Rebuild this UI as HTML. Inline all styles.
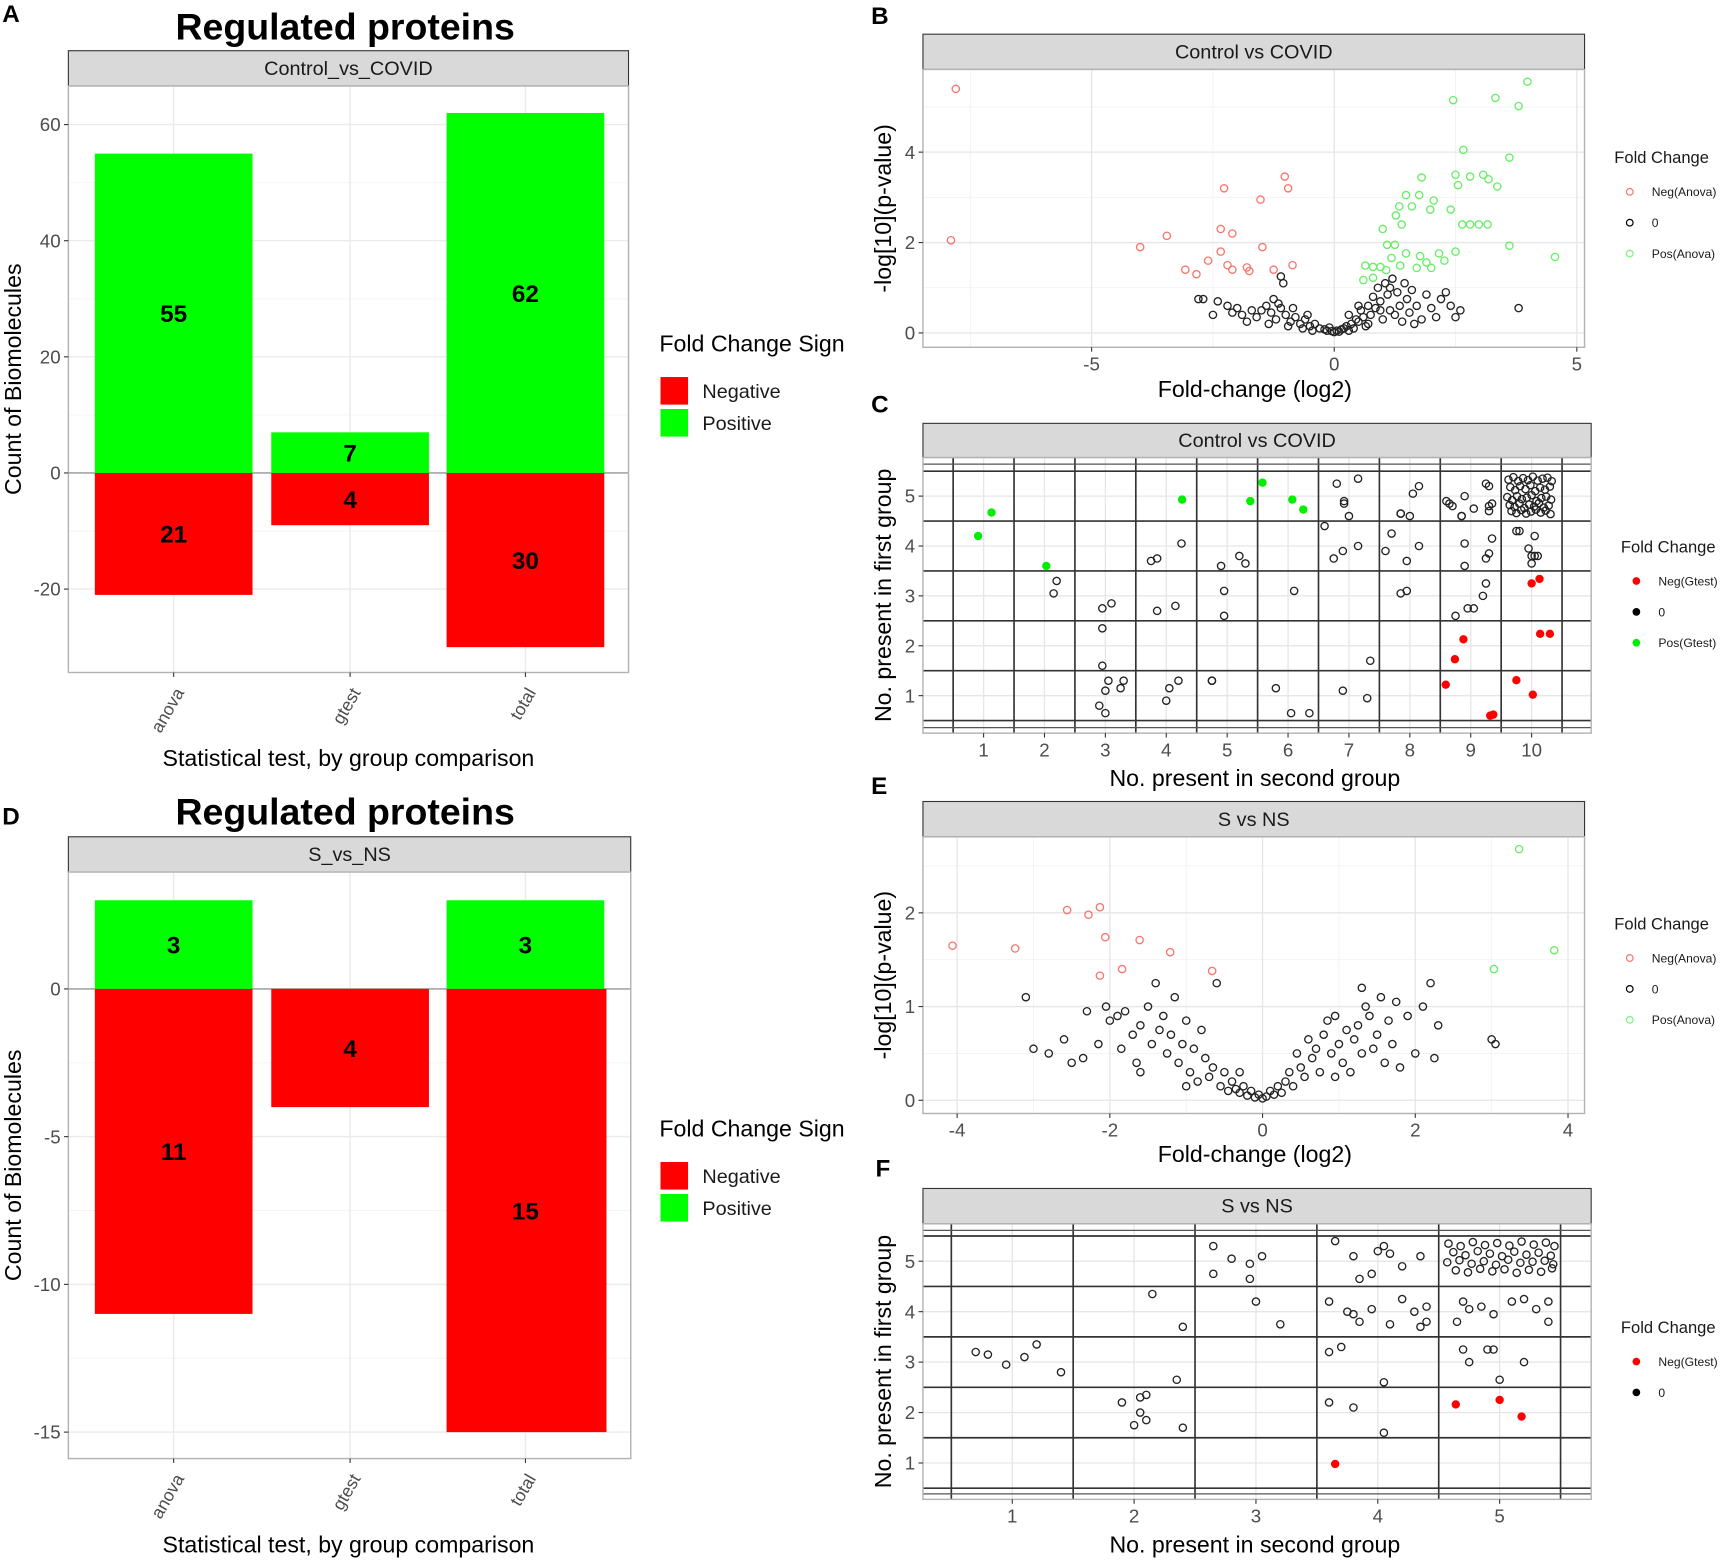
<!DOCTYPE html>
<html><head><meta charset="utf-8">
<style>
html,body{margin:0;padding:0;background:#fff;}
svg{display:block;font-family:"Liberation Sans",Arial,sans-serif;}
</style></head>
<body>
<svg id="fig" width="1729" height="1560" viewBox="0 0 1568 1415" preserveAspectRatio="none" xmlns="http://www.w3.org/2000/svg"></svg>
<script>
// ---------- DATA ----------
const barCats = ["anova","gtest","total"];
const aPos = [55,7,62];
const aNeg = [21,9,30];
const aPosLabels = ["55","7","62"];
const aNegLabels = ["21","4","30"];
const aTicks = [60,40,20,0,-20];
const dPos = [3,0,3];
const dNeg = [11,4,15];
const dPosLabels = ["3","","3"];
const dNegLabels = ["11","4","15"];
const dTicks = [0,-5,-10,-15];

const bNegX = [-7.8,-7.9,-4.0,-3.45,-2.27,-1.52,-1.02,-0.95,-2.34,-2.1,-1.48,-2.34,-2.6,-3.07,-2.84,-2.2,-2.1,-1.8,-1.75,-1.25,-0.86];
const bNegY = [5.4,2.05,1.9,2.15,3.2,2.95,3.46,3.2,2.3,2.2,1.9,1.8,1.6,1.4,1.3,1.5,1.4,1.45,1.37,1.4,1.5];
const bPosX = [3.98,2.45,3.32,3.8,2.66,3.61,1.8,2.5,2.8,3.07,3.18,3.36,1.48,1.75,2.05,2.55,2.4,1.98,1.34,1.6,1.27,1.0,1.39,2.64,2.8,2.98,3.16,3.61,4.55,0.64,0.8,0.95,1.09,1.25,1.18,1.48,1.77,1.9,2.27,2.0,2.16,2.5,1.7,1.36,1.07,0.8,0.6];
const bPosY = [5.56,5.15,5.2,5.02,4.05,3.88,3.44,3.5,3.46,3.5,3.4,3.24,3.05,3.05,2.93,3.27,2.73,2.73,2.8,2.8,2.6,2.3,2.4,2.4,2.4,2.4,2.4,1.93,1.68,1.49,1.46,1.46,1.95,1.95,1.66,1.76,1.7,1.56,1.6,1.44,1.76,1.8,1.44,1.49,1.39,1.22,1.17];
const bZeroX = [-2.8,-2.7,-2.4,-2.2,-2.0,-1.9,-2.1,-1.7,-1.6,-1.5,-1.4,-1.3,-1.2,-1.1,-1.0,-0.9,-1.25,-1.15,-0.8,-0.7,-0.6,-0.5,-0.4,-0.3,-0.2,-0.15,-0.1,-1.05,-1.1,-0.85,-0.95,-0.65,-1.8,-1.35,-2.5,-0.45,-0.55,0,0.05,0.1,0.15,0.2,-0.05,0.25,0.3,0.35,0.4,0.45,0.5,0.55,0.6,0.65,0.7,0.75,0.8,0.85,0.9,0.95,1.0,1.05,1.1,1.15,1.2,1.25,1.3,1.35,1.4,1.45,1.5,1.55,1.6,1.7,1.8,1.9,2.0,2.1,2.3,2.4,2.6,3.8,0.3,0.5,0.7,0.95,1.15,1.65,2.2,2.5];
const bZeroY = [0.75,0.75,0.7,0.6,0.55,0.4,0.45,0.5,0.35,0.5,0.6,0.45,0.3,0.55,0.4,0.25,0.75,0.65,0.35,0.2,0.3,0.15,0.2,0.1,0.08,0.05,0.12,1.1,1.25,0.55,0.15,0.1,0.25,0.2,0.4,0.05,0.4,0.02,0.05,0.03,0.08,0.1,0.04,0.15,0.05,0.2,0.1,0.3,0.25,0.5,0.35,0.15,0.6,0.4,0.8,0.55,1.0,0.7,0.3,1.1,0.85,0.5,1.2,0.4,0.9,0.6,0.25,1.1,0.75,0.45,0.95,0.6,0.3,0.85,0.55,0.35,0.9,0.6,0.5,0.55,0.4,0.6,0.2,0.5,1.0,0.2,0.75,0.35];

const cPosX = [0.91,1.13,2.03,4.26,5.38,5.58,6.07,6.25];
const cPosY = [4.2,4.67,3.6,4.93,4.9,5.27,4.93,4.73];
const cNegX = [10.0,10.13,10.14,10.3,8.88,8.74,8.59,9.75,10.02,9.32,9.37];
const cNegY = [3.25,3.34,2.24,2.24,2.13,1.73,1.22,1.31,1.02,0.6,0.62];
const cZeroX = [2.95,3.1,2.95,2.95,3.05,3.0,2.9,3.0,3.25,3.3,2.15,2.2,3.75,3.85,4.25,3.85,4.15,4.05,4.2,4.0,4.75,4.9,5.2,5.3,4.95,4.95,4.75,5.8,6.1,6.05,6.35,6.8,7.15,6.92,7.0,6.92,6.6,6.75,6.9,7.15,7.35,6.9,7.3,7.85,8.05,8.15,7.85,8.0,7.7,7.6,8.15,7.95,7.85,7.95,8.9,8.65,8.7,8.85,8.85,9.05,9.25,9.3,9.35,8.6,8.9,9.35,9.25,9.3,8.9,9.25,9.2,9.05,8.95,8.75,9.3,9.3,9.75,9.8,10.05,9.95,10.0,10.05,10.1,10.0];
const cZeroY = [2.75,2.85,2.35,1.6,1.3,1.1,0.8,0.65,1.15,1.3,3.05,3.3,3.7,3.75,4.05,2.7,2.8,1.15,1.3,0.9,1.3,3.6,3.8,3.65,3.1,2.6,1.3,1.15,3.1,0.65,0.65,5.25,5.35,4.9,4.6,4.85,4.4,3.75,3.9,4.0,1.7,1.1,0.95,4.65,5.05,5.2,4.65,4.6,4.25,3.9,4.0,3.7,3.05,3.1,5.0,4.85,4.8,4.6,4.6,4.75,5.25,5.2,4.85,4.9,4.05,4.15,3.75,3.85,3.6,3.25,3.0,2.75,2.75,2.6,4.8,4.7,4.3,4.3,4.2,3.95,3.8,3.8,3.8,3.65];
const cDenseX = [9.62,9.7,9.78,9.86,9.94,10.02,10.1,10.18,10.26,10.33,9.65,9.73,9.81,9.9,9.98,10.06,10.14,10.22,10.3,9.6,9.68,9.76,9.84,9.92,10.0,10.08,10.16,10.24,10.32,9.64,9.72,9.8,9.88,9.96,10.04,10.12,10.2,10.28,9.67,9.75,9.83,9.91,9.99,10.07,10.15,10.23,10.31];
const cDenseY = [5.33,5.38,5.3,5.36,5.32,5.39,5.31,5.35,5.37,5.3,5.18,5.12,5.2,5.14,5.22,5.1,5.17,5.13,5.19,4.98,4.92,5.0,4.94,4.97,5.02,4.9,4.96,4.99,4.93,4.82,4.78,4.85,4.76,4.83,4.79,4.86,4.77,4.81,4.7,4.66,4.72,4.65,4.69,4.73,4.67,4.71,4.64];

const eNegX = [-4.06,-3.24,-2.56,-2.28,-2.13,-2.06,-1.61,-1.21,-2.13,-1.84,-0.66];
const eNegY = [1.65,1.62,2.03,1.98,2.06,1.74,1.71,1.58,1.33,1.4,1.38];
const ePosX = [3.36,3.82,3.03];
const ePosY = [2.68,1.6,1.4];
const eZeroX = [-3.1,-2.6,-2.5,-2.35,-2.3,-2.15,-2.05,-2.0,-1.9,-1.85,-1.8,-1.7,-1.65,-1.6,-1.5,-1.45,-1.4,-1.35,-1.3,-1.25,-1.2,-1.15,-1.1,-1.05,-1.0,-0.95,-0.9,-0.85,-0.8,-0.75,-0.7,-0.65,-0.6,-0.55,-0.5,-0.45,-0.4,-0.35,-0.3,-0.25,-0.2,-0.15,-0.1,-0.05,0,0.05,0.1,0.15,0.2,0.25,0.3,0.35,0.4,0.45,0.5,0.55,0.6,0.65,0.7,0.75,0.8,0.85,0.9,0.95,1.0,1.05,1.1,1.15,1.2,1.25,1.3,1.35,1.4,1.45,1.5,1.55,1.6,1.65,1.7,1.75,1.8,1.9,2.0,2.1,2.2,2.25,2.3,1.3,0.95,-0.3,-1.0,-1.6,3.0,3.05,-3.0,-2.8];
const eZeroY = [1.1,0.65,0.4,0.45,0.95,0.6,1.0,0.85,0.9,0.55,0.95,0.7,0.4,0.8,1.0,0.6,1.25,0.75,0.9,0.5,0.7,1.1,0.4,0.6,0.85,0.3,0.55,0.2,0.75,0.45,0.25,0.35,1.25,0.15,0.3,0.1,0.2,0.12,0.08,0.15,0.05,0.1,0.03,0.06,0.02,0.04,0.1,0.06,0.15,0.08,0.2,0.3,0.15,0.5,0.35,0.25,0.65,0.45,0.55,0.3,0.7,0.85,0.5,0.9,0.6,0.4,0.75,0.3,0.65,0.8,0.5,1.0,0.9,0.55,0.7,1.1,0.4,0.85,0.6,1.05,0.35,0.9,0.5,1.0,1.25,0.45,0.8,1.2,0.25,0.3,0.15,0.3,0.65,0.6,0.55,0.5];

const fNegX = [3.65,4.64,5.0,5.18];
const fNegY = [0.98,2.16,2.25,1.92];
const fZeroX = [0.7,0.8,0.95,1.1,1.2,1.4,1.9,2.05,2.1,2.05,2.1,2.0,2.35,2.4,2.15,2.4,2.65,2.8,2.95,3.05,2.65,2.95,3.0,3.2,3.65,3.8,3.85,3.95,4.0,4.05,4.1,4.2,4.35,3.6,3.75,3.85,3.95,4.1,4.2,4.3,4.35,4.4,3.6,3.7,3.6,3.8,4.05,4.05,4.4,3.8,4.7,4.75,4.85,4.95,5.1,5.3,5.4,5.4,4.75,4.7,4.9,4.95,5.0,5.2,4.65,5.2];
const fZeroY = [3.2,3.15,2.95,3.1,3.35,2.8,2.2,2.3,2.35,2.0,1.85,1.75,2.65,1.7,4.35,3.7,5.3,5.05,4.95,5.1,4.75,4.65,4.2,3.75,5.4,5.1,4.65,4.75,5.2,5.3,5.15,4.9,5.1,4.2,4.0,3.8,4.05,3.75,4.25,4.0,3.7,4.1,3.2,3.3,2.2,2.1,2.6,1.6,3.8,3.95,4.2,4.05,4.1,3.95,4.2,4.05,3.8,4.2,3.0,3.25,3.25,3.25,2.65,3.0,3.8,4.25];
const fDenseX = [4.58,4.68,4.78,4.88,4.98,5.08,5.18,5.28,5.38,5.45,4.62,4.72,4.82,4.92,5.02,5.12,5.22,5.32,5.42,4.57,4.67,4.77,4.87,4.97,5.07,5.17,5.27,5.37,5.44,4.64,4.74,4.84,4.94,5.04,5.14,5.24,5.34,5.43];
const fDenseY = [5.35,5.3,5.38,5.32,5.36,5.31,5.39,5.33,5.37,5.3,5.18,5.12,5.2,5.15,5.1,5.19,5.13,5.17,5.11,4.98,5.02,4.95,5.0,4.93,5.03,4.97,4.99,5.01,4.94,4.82,4.78,4.85,4.8,4.84,4.77,4.83,4.79,4.86];

// ---------- HELPERS ----------
const NS = "http://www.w3.org/2000/svg";
const fig = document.getElementById('fig');
function mk(tag, attrs, parent, text){
  const e = document.createElementNS(NS, tag);
  for (const k in attrs) e.setAttribute(k, attrs[k]);
  if (text !== undefined) e.textContent = text;
  (parent || fig).appendChild(e);
  return e;
}
function lin(d0,d1,r0,r1){ return v => r0 + (v-d0)*(r1-r0)/(d1-d0); }
function grp(name, parent){
  const g = mk('g', {}, parent);
  
  
  return g;
}
function txt(g, x, y, s, size, opts){
  opts = opts || {};
  const t = mk('text', {x:x, y:y, 'font-size':size, fill:opts.fill||'#000', 'text-anchor':opts.anchor||'middle', 'font-weight':opts.weight||'normal'}, g, s);
  if (opts.rot) t.setAttribute('transform', `rotate(${opts.rot} ${x} ${y})`);
  
  
  return t;
}
function strip(g, x0, x1, y0, y1, label){
  const r = mk('rect', {x:x0, y:y0, width:x1-x0, height:y1-y0, fill:'#d9d9d9', stroke:'#333', 'stroke-width':1}, g);
  
  
  txt(g, (x0+x1)/2, (y0+y1)/2+6, label, 18, {fill:'#1a1a1a', name:'facet-label'});
}

// ---------- BAR PANELS ----------
function barPanel(name, cfg){
  const g = grp(name);
  txt(g, cfg.letterX, cfg.letterY, cfg.letter, 22, {weight:'bold', anchor:'start', name:'panel-letter'});
  txt(g, 313, cfg.titleY, 'Regulated proteins', 34, {weight:'bold', name:'chart-title'});
  strip(g, 62, cfg.px1, cfg.stripY, cfg.py0, cfg.strip);
  const y = lin(cfg.d0, cfg.d1, cfg.r0, cfg.r1);
  const bg = mk('rect', {x:62, y:cfg.py0, width:cfg.px1-62, height:cfg.py1-cfg.py0, fill:'#fff'}, g);
   
  const grid = grp('gridlines', g);
  cfg.ticks.forEach((t,i)=>{
    mk('line',{x1:62,x2:cfg.px1,y1:y(t),y2:y(t),stroke:'#ebebeb','stroke-width':1.3},grid);
    if (i < cfg.ticks.length-1){ const m=(t+cfg.ticks[i+1])/2; mk('line',{x1:62,x2:cfg.px1,y1:y(m),y2:y(m),stroke:'#f3f3f3','stroke-width':0.8},grid); }
  });
  const cx = [157.5, 317.5, 476.5];
  cx.forEach(c=>mk('line',{x1:c,x2:c,y1:cfg.py0,y2:cfg.py1,stroke:'#ebebeb','stroke-width':1.3},grid));
  mk('line',{x1:62,x2:cfg.px1,y1:y(0),y2:y(0),stroke:'#999','stroke-width':1.3},grid);
  const bw = 143;
  barCats.forEach((c,i)=>{
    if (cfg.pos[i] > 0){
      const r = mk('rect',{x:cx[i]-bw/2, y:y(cfg.pos[i]), width:bw, height:y(0)-y(cfg.pos[i]), fill:'#00ff00'}, g);
      
      
      txt(g, cx[i], (y(cfg.pos[i])+y(0))/2+8, cfg.posL[i], 22, {weight:'bold', name:'bar-value-label'});
    }
    if (cfg.neg[i] > 0){
      const r = mk('rect',{x:cx[i]-bw/2, y:y(0), width:bw + (i==2?cfg.extra:0), height:y(-cfg.neg[i])-y(0), fill:'#ff0000'}, g);
      
      
      txt(g, cx[i], (y(-cfg.neg[i])+y(0))/2+8, cfg.negL[i], 22, {weight:'bold', name:'bar-value-label'});
    }
  });
  const fr = mk('rect',{x:62,y:cfg.py0,width:cfg.px1-62,height:cfg.py1-cfg.py0,fill:'none',stroke:'#b3b3b3','stroke-width':1.3},g);
   
  const ax = grp('y-axis', g);
  cfg.ticks.forEach(t=>{
    mk('line',{x1:58,x2:62,y1:y(t),y2:y(t),stroke:'#333'},ax);
    txt(ax, 55, y(t)+6, String(t), 17, {fill:'#4d4d4d', anchor:'end', name:'y-tick-label'});
  });
  const xa = grp('x-axis', g);
  barCats.forEach((c,i)=>{
    mk('line',{x1:cx[i],x2:cx[i],y1:cfg.py1,y2:cfg.py1+4,stroke:'#333'},xa);
    txt(xa, cx[i]+10, cfg.py1+18, c, 16, {fill:'#4d4d4d', anchor:'end', rot:-60, name:'x-tick-label'});
  });
  txt(g, 316, cfg.xtitleY, 'Statistical test, by group comparison', 21, {name:'x-axis-title'});
  txt(g, 19, (cfg.py0+cfg.py1)/2, 'Count of Biomolecules', 21, {rot:-90, name:'y-axis-title'});
  const lg = grp('legend', g);
  txt(lg, 598, cfg.legY, 'Fold Change Sign', 21, {anchor:'start', name:'legend-title'});
  const r1 = mk('rect',{x:599,y:cfg.legY+23,width:25,height:25,fill:'#ff0000'},lg);
   
  const r2 = mk('rect',{x:599,y:cfg.legY+52,width:25,height:25,fill:'#00ff00'},lg);
   
  txt(lg, 637, cfg.legY+42, 'Negative', 18, {anchor:'start', fill:'#1a1a1a', name:'legend-label'});
  txt(lg, 637, cfg.legY+71, 'Positive', 18, {anchor:'start', fill:'#1a1a1a', name:'legend-label'});
}
barPanel('panel-a', {letter:'A',letterX:2,letterY:20,titleY:36,strip:'Control_vs_COVID',stripY:46,py0:78,py1:610,px1:570,
  d0:0,d1:60,r0:429,r1:113,ticks:aTicks,pos:aPos,neg:aNeg,posL:aPosLabels,negL:aNegLabels,xtitleY:695,legY:319,extra:0});
barPanel('panel-d', {letter:'D',letterX:2,letterY:748,titleY:748,strip:'S_vs_NS',stripY:759,py0:791,py1:1323,px1:572,
  d0:0,d1:-15,r0:897,r1:1299,ticks:dTicks,pos:dPos,neg:dNeg,posL:dPosLabels,negL:dNegLabels,xtitleY:1408,legY:1031,extra:2});

// ---------- SCATTER PANELS ----------
function pts(g, xs, ys, sx, sy, color, filled, name){
  const pg = grp(name, g);
  xs.forEach((v,i)=>{
    const c = mk('circle',{cx:sx(v), cy:sy(ys[i]), r: filled?3.8:3.3, fill: filled?color:'none', stroke:color, 'stroke-width': filled?0:1.2}, pg);
    
    
  });
}
function scatterFrame(g, cfg){
  txt(g, cfg.lx, cfg.ly, cfg.letter, 22, {weight:'bold', anchor:'start', name:'panel-letter'});
  strip(g, 837, cfg.px1, cfg.stripY, cfg.py0, cfg.strip);
  const grid = grp('gridlines', g);
  cfg.xMinor.forEach(v=>mk('line',{x1:cfg.sx(v),x2:cfg.sx(v),y1:cfg.py0,y2:cfg.py1,stroke:'#f2f2f2','stroke-width':0.8},grid));
  cfg.yMinor.forEach(v=>mk('line',{x1:837,x2:cfg.px1,y1:cfg.sy(v),y2:cfg.sy(v),stroke:'#f2f2f2','stroke-width':0.8},grid));
  cfg.xTicks.forEach(v=>mk('line',{x1:cfg.sx(v),x2:cfg.sx(v),y1:cfg.py0,y2:cfg.py1,stroke:'#e6e6e6','stroke-width':1.2},grid));
  cfg.yTicks.forEach(v=>mk('line',{x1:837,x2:cfg.px1,y1:cfg.sy(v),y2:cfg.sy(v),stroke:'#e6e6e6','stroke-width':1.2},grid));
  if (cfg.blackX){
    const bl = grp('cell-lines', g);
    cfg.blackX.forEach(v=>mk('line',{x1:cfg.sx(v),x2:cfg.sx(v),y1:cfg.py0,y2:cfg.py1,stroke:'#333','stroke-width':1.5},bl));
    cfg.blackY.forEach(v=>{mk('line',{x1:837,x2:cfg.px1,y1:cfg.sy(v),y2:cfg.sy(v),stroke:'#333','stroke-width':1.5},bl);});
    [cfg.py0+6, cfg.py1-5].forEach(yy=>mk('line',{x1:837,x2:cfg.px1,y1:yy,y2:yy,stroke:'#555','stroke-width':1.2},bl));
  }
  const fr = mk('rect',{x:837,y:cfg.py0,width:cfg.px1-837,height:cfg.py1-cfg.py0,fill:'none',stroke:'#b3b3b3','stroke-width':1.3},g);
   
  const xa = grp('x-axis', g);
  cfg.xTicks.forEach(v=>{
    mk('line',{x1:cfg.sx(v),x2:cfg.sx(v),y1:cfg.py1,y2:cfg.py1+4,stroke:'#333'},xa);
    txt(xa, cfg.sx(v), cfg.py1+21, String(v), 17, {fill:'#4d4d4d', name:'x-tick-label'});
  });
  const ya = grp('y-axis', g);
  cfg.yTicks.forEach(v=>{
    mk('line',{x1:833,x2:837,y1:cfg.sy(v),y2:cfg.sy(v),stroke:'#333'},ya);
    txt(ya, 830, cfg.sy(v)+6, String(v), 17, {fill:'#4d4d4d', anchor:'end', name:'y-tick-label'});
  });
  txt(g, 1138, cfg.xtitleY, cfg.xtitle, 21, {name:'x-axis-title'});
  txt(g, 808, (cfg.py0+cfg.py1)/2, cfg.ytitle, 21, {rot:-90, name:'y-axis-title'});
  const lg = grp('legend', g);
  txt(lg, cfg.legX, cfg.legY, 'Fold Change', 15, {anchor:'start', fill:'#1a1a1a', name:'legend-title'});
  cfg.legItems.forEach((it,i)=>{
    const yy = cfg.legY+30+28*i;
    const c = mk('circle',{cx:cfg.legX+14, cy:yy-4, r: cfg.filled?3.5:3, fill: cfg.filled?it[1]:'none', stroke:it[1], 'stroke-width':cfg.filled?0:1.1}, lg);
     
    txt(lg, cfg.legX+34, yy, it[0], 11, {anchor:'start', fill:'#1a1a1a', name:'legend-label'});
  });
}
function range(a,b,s){const r=[];for(let v=a;v<=b+1e-9;v+=s)r.push(+v.toFixed(2));return r;}

// Panel B
(function(){
  const g = grp('panel-b');
  const sx = lin(0,5,1210,1430), sy = lin(0,4,302,138);
  scatterFrame(g,{letter:'B',lx:790,ly:22,strip:'Control vs COVID',stripY:31,py0:63,py1:315,px1:1437,sx,sy,
    xTicks:[-5,0,5],yTicks:[0,2,4],xMinor:[-7.5,-2.5,2.5],yMinor:[1,3,5],
    xtitle:'Fold-change (log2)',xtitleY:360,ytitle:'-log[10](p-value)',legX:1464,legY:148,filled:false,
    legItems:[['Neg(Anova)','#f8766d'],['0','#000'],['Pos(Anova)','#7cf27c']]});
  pts(g,bZeroX,bZeroY,sx,sy,'#222',false,'series-zero');
  pts(g,bNegX,bNegY,sx,sy,'#f8766d',false,'series-negative');
  pts(g,bPosX,bPosY,sx,sy,'#66ee66',false,'series-positive');
})();
// Panel C
(function(){
  const g = grp('panel-c');
  const sx = lin(1,10,892,1389), sy = lin(1,5,631,450);
  scatterFrame(g,{letter:'C',lx:790,ly:374,strip:'Control vs COVID',stripY:384,py0:415,py1:665,px1:1443,sx,sy,
    xTicks:range(1,10,1),yTicks:[1,2,3,4,5],xMinor:range(0.5,10.5,0.5),yMinor:range(0.5,5.5,0.5),
    blackX:range(0.5,10.5,1),blackY:range(0.5,5.5,1),
    xtitle:'No. present in second group',xtitleY:713,ytitle:'No. present in first group',legX:1470,legY:501,filled:true,
    legItems:[['Neg(Gtest)','#ff0000'],['0','#000'],['Pos(Gtest)','#00ee00']]});
  pts(g,cZeroX,cZeroY,sx,sy,'#222',false,'series-zero');
  pts(g,cDenseX,cDenseY,sx,sy,'#222',false,'series-zero-dense');
  pts(g,cNegX,cNegY,sx,sy,'#ff0000',true,'series-negative');
  pts(g,cPosX,cPosY,sx,sy,'#00ee00',true,'series-positive');
})();
// Panel E
(function(){
  const g = grp('panel-e');
  const sx = lin(0,4,1145,1422), sy = lin(0,2,998,828);
  scatterFrame(g,{letter:'E',lx:790,ly:720,strip:'S vs NS',stripY:727,py0:759,py1:1010,px1:1437,sx,sy,
    xTicks:[-4,-2,0,2,4],yTicks:[0,1,2],xMinor:[-3,-1,1,3],yMinor:[0.5,1.5,2.5],
    xtitle:'Fold-change (log2)',xtitleY:1054,ytitle:'-log[10](p-value)',legX:1464,legY:843,filled:false,
    legItems:[['Neg(Anova)','#f8766d'],['0','#000'],['Pos(Anova)','#7cf27c']]});
  pts(g,eZeroX,eZeroY,sx,sy,'#222',false,'series-zero');
  pts(g,eNegX,eNegY,sx,sy,'#f8766d',false,'series-negative');
  pts(g,ePosX,ePosY,sx,sy,'#66ee66',false,'series-positive');
})();
// Panel F
(function(){
  const g = grp('panel-f');
  const sx = lin(1,5,918,1360), sy = lin(1,5,1327,1144);
  scatterFrame(g,{letter:'F',lx:794,ly:1067,strip:'S vs NS',stripY:1078,py0:1110,py1:1360,px1:1443,sx,sy,
    xTicks:[1,2,3,4,5],yTicks:[1,2,3,4,5],xMinor:range(0.5,5.5,0.5),yMinor:range(0.5,5.5,0.5),
    blackX:range(0.5,5.5,1),blackY:range(0.5,5.5,1),
    xtitle:'No. present in second group',xtitleY:1408,ytitle:'No. present in first group',legX:1470,legY:1209,filled:true,
    legItems:[['Neg(Gtest)','#ff0000'],['0','#000']]});
  pts(g,fZeroX,fZeroY,sx,sy,'#222',false,'series-zero');
  pts(g,fDenseX,fDenseY,sx,sy,'#222',false,'series-zero-dense');
  pts(g,fNegX,fNegY,sx,sy,'#ff0000',true,'series-negative');
})();
</script>
</body></html>
